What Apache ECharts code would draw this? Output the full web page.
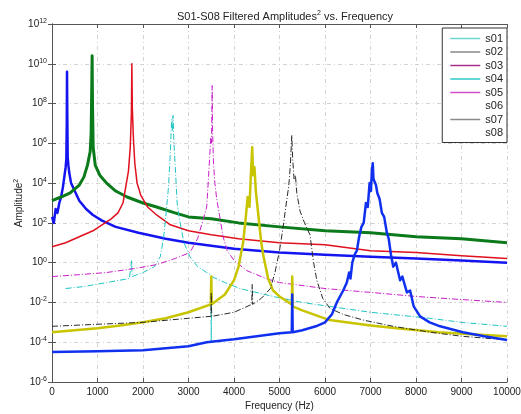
<!DOCTYPE html>
<html>
<head>
<meta charset="utf-8">
<title>S01-S08 Filtered Amplitudes</title>
<script src="https://cdn.jsdelivr.net/npm/echarts@6/dist/echarts.min.js"></script>
<style>
  html, body { margin: 0; padding: 0; background: #fff; }
  #chart { width: 521px; height: 414px; }
</style>
</head>
<body>
<div id="chart"></div>
<script>
// [frequency Hz, amplitude^2]
var s01 = [[0, 2e2], [40, 1e2], [80, 5e2], [120, 3.2e2], [160, 1e3], [200, 2e3], [240, 6.3e3], [270, 2e4], [300, 6.3e4], [315, 1.6e5], [325, 1e7], [330, 4e9], [336, 3.2e7], [345, 2e5], [360, 8e4], [380, 3.2e4], [420, 1e4], [500, 4e3], [600, 1.3e3], [750, 5e2], [900, 2.5e2], [1100, 1.3e2], [1400, 6.3e1], [1900, 3.2e1], [2500, 1.6e1], [3000, 1e1], [4000, 5], [5000, 3.2], [6000, 2.5], [7000, 2], [8000, 1.6], [9000, 1.3], [10000, 1]];
var s02 = [[0, 1.3e3], [200, 2e3], [400, 3.2e3], [600, 8e3], [700, 2e4], [780, 8e4], [840, 4e5], [860, 3.2e6], [875, 1e9], [882, 2.5e10], [890, 1e8], [905, 6.3e5], [950, 8e4], [1050, 2.5e4], [1200, 1e4], [1400, 4e3], [1650, 2e3], [2000, 1e3], [2300, 6.3e2], [2700, 3.2e2], [3000, 2e2], [3500, 1.6e2], [4100, 1e2], [5000, 6.3e1], [6000, 4e1], [7000, 3.2e1], [8000, 2e1], [9000, 1.6e1], [10000, 1e1]];
var s03 = [[0, 6.3], [300, 1e1], [600, 2e1], [900, 4e1], [1100, 8e1], [1300, 1.6e2], [1450, 3.2e2], [1560, 1e3], [1620, 6.3e3], [1680, 4e4], [1720, 6.3e5], [1745, 3.2e7], [1755, 1e10], [1765, 6.3e7], [1790, 1.6e6], [1820, 1e5], [1870, 1e4], [1950, 2.5e3], [2100, 6.3e2], [2300, 2.5e2], [2600, 8e1], [3000, 4e1], [3500, 2.5e1], [4100, 1.6e1], [5000, 1e1], [6000, 8], [7000, 4], [8000, 3.2], [9000, 2.2], [10000, 1.6]];
var s04 = [[300, 5e-2], [700, 6.3e-2], [1200, 1e-1], [1700, 1.6e-1], [1740, 1.6e-1], [1750, 1.3], [1760, 2e-1], [2000, 3.2e-1], [2250, 6.3e-1], [2380, 2], [2450, 1.6e1], [2500, 2e2], [2560, 6.3e3], [2600, 3.2e5], [2630, 1.6e7], [2645, 4e6], [2660, 2.5e7], [2680, 1e6], [2710, 6.3e4], [2750, 1e3], [2800, 1.6e2], [2900, 1e1], [3030, 2], [3200, 6.3e-1], [3400, 3.2e-1], [3490, 2.5e-1], [3500, 1e-4], [3510, 2e-1], [3800, 1e-1], [4130, 5e-2], [4860, 2e-2], [5500, 1e-2], [6100, 6.3e-3], [7000, 3.2e-3], [8300, 1.6e-3], [9000, 1e-3], [10000, 6.3e-4]];
var s05 = [[0, 2e-1], [600, 2.5e-1], [1200, 3.2e-1], [1800, 5e-1], [2300, 8e-1], [2700, 1.6], [3030, 3.2], [3200, 1.6e1], [3300, 1e2], [3400, 6.3e2], [3440, 2e4], [3470, 3.2e5], [3490, 2e6], [3505, 1e6], [3512, 1.6e7], [3520, 8e8], [3530, 3.2e6], [3550, 1e5], [3580, 1e4], [3620, 1.6e3], [3680, 2.5e2], [3760, 2e1], [3850, 4], [4000, 1.3], [4280, 4e-1], [4700, 1.6e-1], [5000, 1e-1], [6000, 5e-2], [7000, 3.2e-2], [8000, 2e-2], [9000, 1.4e-2], [10000, 1e-2]];
var s06 = [[0, 3.2e-4], [500, 4e-4], [1000, 5e-4], [1500, 7e-4], [2000, 1e-3], [2500, 1.6e-3], [3000, 3.2e-3], [3490, 8e-3], [3500, 2e-1], [3510, 8e-3], [3800, 2.5e-2], [4000, 1.3e-1], [4100, 6.3e-1], [4200, 1e1], [4260, 2e2], [4300, 2e3], [4340, 6.3e2], [4370, 2.5e4], [4400, 6.3e5], [4420, 2.5e4], [4450, 6.3e4], [4480, 4e3], [4530, 3.2e2], [4600, 1e1], [4650, 2], [4750, 1.6e-1], [4860, 4e-2], [5000, 2e-2], [5270, 8e-3], [5280, 2e-1], [5290, 6.3e-3], [5500, 4e-3], [6100, 1.3e-3], [7000, 7e-4], [7580, 5e-4], [8500, 3.2e-4], [9200, 2.5e-4], [10000, 2e-4]];
var s07 = [[0, 6.3e-4], [1000, 8e-4], [2000, 1e-3], [3000, 1.6e-3], [3490, 2e-3], [3500, 3.2e-2], [3510, 2e-3], [4000, 3.2e-3], [4390, 8e-3], [4400, 8e-2], [4410, 8e-3], [4600, 1.6e-2], [4800, 5e-2], [4900, 3.2e-1], [5000, 4], [5080, 6.3e1], [5150, 1e3], [5200, 6.3e3], [5220, 2e4], [5240, 1e5], [5270, 2.5e6], [5290, 1.6e5], [5320, 1.6e4], [5350, 2.5e4], [5380, 3.2e3], [5450, 4e2], [5550, 1e2], [5670, 2.5e1], [5750, 1], [5820, 1.3e-1], [5950, 1.6e-2], [6110, 5e-3], [6400, 2.5e-3], [6840, 1.3e-3], [7500, 6.3e-4], [8300, 3.2e-4], [9000, 2e-4], [10000, 1.3e-4]];
var s08 = [[0, 3.2e-5], [1000, 3.5e-5], [2000, 4e-5], [3000, 6.3e-5], [3400, 1e-4], [4000, 1.4e-4], [4500, 2e-4], [5000, 2.8e-4], [5270, 3.2e-4], [5280, 2.5e-2], [5290, 3.2e-4], [5500, 4e-4], [5800, 6.3e-4], [6000, 1e-3], [6150, 2.5e-3], [6260, 1e-2], [6400, 4e-2], [6480, 1e-1], [6530, 3.2e-1], [6560, 1.6e-1], [6600, 1], [6650, 2.5], [6700, 4], [6750, 2e1], [6800, 6.3e1], [6850, 1e2], [6900, 1e3], [6940, 6.3e2], [6980, 1e4], [7010, 4e3], [7030, 4e4], [7050, 1e5], [7065, 1.6e4], [7080, 2e4], [7120, 8e3], [7150, 3.2e3], [7200, 1.6e3], [7250, 3.2e2], [7300, 2e2], [7360, 3.2e1], [7400, 1.6e1], [7450, 2.5], [7500, 6.3e-1], [7560, 1], [7650, 1.3e-1], [7700, 2e-1], [7800, 3.2e-2], [7870, 4e-2], [7950, 6.3e-3], [8090, 2e-3], [8300, 1e-3], [8530, 6.3e-4], [9030, 3.2e-4], [9500, 2e-4], [10000, 1.3e-4]];

var names = ['s01', 's02', 's03', 's04', 's05', 's06', 's07', 's08'];
var lineColors = ['#1414f0', '#0a7a1a', '#e0101e', '#22c4c4', '#c81ec8', '#c8c400', '#2a2a2a', '#1030f0'];
// legend swatches as they appear in the picture
var legendColors = ['#6fd6d0', '#8a8a8a', '#a8308c', '#30c8c8', '#d050c8', 'rgba(0,0,0,0)', '#8a8a8a', 'rgba(0,0,0,0)'];
var lineWidths = [2.5, 3, 1.5, 1, 1, 2.5, 1, 2.5];
var lineTypes = ['solid', 'solid', 'solid', [6, 2, 1, 2], [6, 2, 1, 2], 'solid', [6, 2, 1, 2], 'solid'];
var allData = [s01, s02, s03, s04, s05, s06, s07, s08];

var chart = echarts.init(document.getElementById('chart'));
var font = 'Liberation Sans, Arial, sans-serif';
var supRich = { sup: { fontSize: 7, verticalAlign: 'top', padding: [0, 0, 6, 0], color: '#222', fontFamily: font } };

var series = names.map(function (n, i) {
    return {
        name: n,
        type: 'line',
        xAxisIndex: 0,
        yAxisIndex: 0,
        data: allData[i],
        symbol: 'none',
        color: lineColors[i],
        lineStyle: { color: lineColors[i], width: lineWidths[i], type: lineTypes[i], join: 'round' },
        animation: false
    };
});

var gridLine = { show: true, lineStyle: { color: '#c8c8c8', width: 0.8, type: [4, 3, 1, 3] } };

chart.setOption({
    backgroundColor: '#fff',
    title: {
        text: 'S01-S08 Filtered Amplitudes{sup|2} vs. Frequency',
        left: 280,
        top: 5,
        textAlign: 'center',
        textStyle: { fontSize: 11, fontWeight: 'normal', color: '#222', fontFamily: font, rich: supRich }
    },
    legend: {
        orient: 'vertical',
        right: 14,
        top: 28,
        data: names.map(function (n, i) {
            return { name: n, itemStyle: { color: legendColors[i] } };
        }),
        icon: 'rect',
        itemWidth: 30,
        itemHeight: 1.5,
        itemGap: 2.5,
        padding: [5, 4, 4, 8],
        borderColor: '#333',
        borderWidth: 1,
        backgroundColor: '#fff',
        textStyle: { fontSize: 11, color: '#222', fontFamily: font }
    },
    grid: { left: 52, right: 14, top: 24, bottom: 32, outerBoundsMode: 'none' },
    xAxis: [{
        type: 'value', min: 0, max: 10000, interval: 1000,
        name: 'Frequency (Hz)', nameLocation: 'middle', nameGap: 19, nameMoveOverlap: false,
        nameTextStyle: { fontSize: 10, color: '#222', fontFamily: font },
        axisLine: { lineStyle: { color: '#555' } },
        axisTick: { inside: true, length: 4, lineStyle: { color: '#555' } },
        axisLabel: { fontSize: 10, color: '#222', fontFamily: font, margin: 5, formatter: function (v) { return String(v); } },
        splitLine: gridLine
    }, {
        type: 'value', min: 0, max: 10000, interval: 1000, position: 'top',
        axisLine: { lineStyle: { color: '#555' } },
        axisTick: { inside: true, length: 4, lineStyle: { color: '#555' } },
        axisLabel: { show: false }, splitLine: { show: false }
    }],
    yAxis: [{
        type: 'log', logBase: 10, min: 1e-6, max: 1e12, interval: 2,
        name: 'Amplitude{sup|2}', nameLocation: 'middle', nameGap: 26, nameRotate: 90,
        nameMoveOverlap: false,
        nameTextStyle: { fontSize: 10, color: '#222', fontFamily: font, rich: supRich },
        axisLine: { show: true, lineStyle: { color: '#555' } },
        axisTick: { show: true, inside: true, length: 4, lineStyle: { color: '#555' } },
        minorTick: { show: false },
        axisLabel: {
            fontSize: 10, color: '#222', fontFamily: font, margin: 5,
            formatter: function (v) {
                return '10{sup|' + Math.round(Math.log10(v)) + '}';
            },
            rich: supRich
        },
        splitLine: gridLine
    }, {
        type: 'log', logBase: 10, min: 1e-6, max: 1e12, interval: 2, position: 'right',
        axisLine: { show: true, lineStyle: { color: '#555' } },
        axisTick: { show: true, inside: true, length: 4, lineStyle: { color: '#555' } },
        axisLabel: { show: false }, splitLine: { show: false }
    }],
    series: series
});
</script>
</body>
</html>
